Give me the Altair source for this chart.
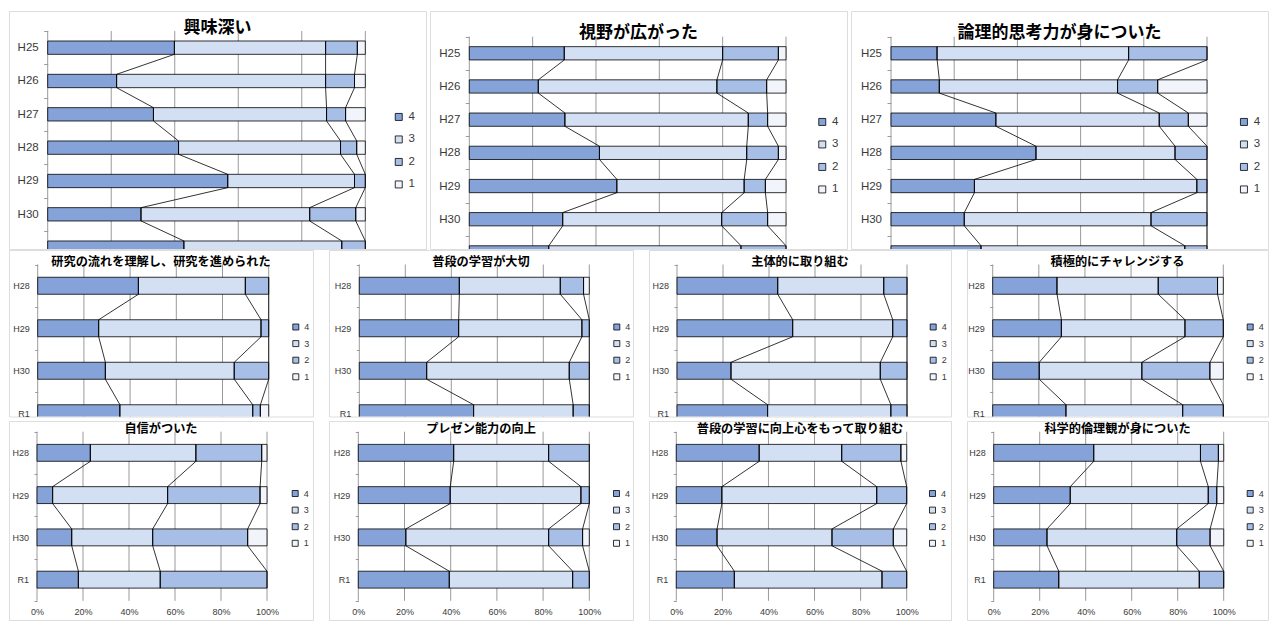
import json
import altair as alt
import pandas as pd

# ---------------- data ----------------
CATS_TOP = ["H25", "H26", "H27", "H28", "H29", "H30", "R1"]
CATS_SUB = ["H28", "H29", "H30", "R1"]
LEVELS = ["4", "3", "2", "1"]
PCT_TICKS = [0, 0.2, 0.4, 0.6, 0.8, 1.0]

# each row: share (%) of answers 4, 3, 2, 1
kyomi = [[39.9, 47.6, 10.0, 2.5], [21.7, 65.8, 9.1, 3.4], [33.3, 54.5, 6.0, 6.2],
         [41.2, 51.0, 5.1, 2.7], [56.7, 39.9, 3.4, 0.0], [29.4, 53.1, 14.5, 3.0],
         [42.9, 49.7, 7.4, 0.0]]
shiya = [[30.0, 50.0, 17.6, 2.4], [21.8, 56.4, 15.7, 6.1], [30.2, 57.9, 6.1, 5.8],
         [41.1, 46.5, 10.0, 2.4], [46.6, 40.2, 6.7, 6.5], [29.5, 50.2, 14.5, 5.8],
         [25.1, 60.7, 14.2, 0.0]]
ronri = [[14.6, 60.6, 24.8, 0.0], [15.3, 56.4, 12.7, 15.6], [33.2, 51.7, 9.2, 5.9],
         [45.9, 44.0, 10.1, 0.0], [26.4, 70.4, 3.2, 0.0], [23.2, 59.1, 17.7, 0.0],
         [28.5, 64.5, 7.0, 0.0]]

kenkyu = [[43.6, 46.3, 10.1, 0.0], [26.4, 70.3, 3.3, 0.0], [29.3, 55.8, 14.9, 0.0], [35.6, 57.5, 3.3, 3.6]]
fudan = [[43.5, 43.9, 10.1, 2.5], [43.2, 53.6, 3.2, 0.0], [29.3, 62.0, 8.7, 0.0], [49.7, 43.3, 7.0, 0.0]]
shutai = [[43.8, 46.1, 10.1, 0.0], [50.3, 43.5, 6.2, 0.0], [23.5, 64.9, 11.6, 0.0], [39.4, 53.6, 7.0, 0.0]]
sekkyoku = [[27.9, 43.9, 25.7, 2.5], [29.8, 53.6, 16.6, 0.0], [20.2, 44.5, 29.5, 5.8], [31.8, 50.6, 17.6, 0.0]]

jishin = [[23.2, 45.9, 28.6, 2.3], [6.8, 50.0, 40.2, 3.0], [15.1, 35.2, 41.3, 8.4], [18.0, 35.6, 46.4, 0.0]]
purezen = [[41.3, 41.1, 17.6, 0.0], [39.8, 56.6, 3.6, 0.0], [20.6, 61.8, 14.7, 2.9], [39.4, 53.4, 7.2, 0.0]]
kojoshin = [[36.0, 35.8, 25.7, 2.5], [19.8, 67.2, 13.0, 0.0], [17.7, 49.9, 26.6, 5.8], [25.2, 64.1, 10.7, 0.0]]
rinri = [[43.5, 46.4, 7.8, 2.3], [33.3, 60.0, 3.7, 3.0], [23.2, 56.4, 14.5, 5.9], [28.3, 61.1, 10.6, 0.0]]

TOP = [("興味深い", kyomi), ("視野が広がった", shiya), ("論理的思考力が身についた", ronri)]
MID = [("研究の流れを理解し、研究を進められた", kenkyu), ("普段の学習が大切", fudan),
       ("主体的に取り組む", shutai), ("積極的にチャレンジする", sekkyoku)]
BOT = [("自信がついた", jishin), ("プレゼン能力の向上", purezen),
       ("普段の学習に向上心をもって取り組む", kojoshin), ("科学的倫理観が身についた", rinri)]

# ---------------- style ----------------
COLORS = ["#86A3D9", "#D3DFF3", "#A7BEE7", "#F1F5FB"]
GRID = "#9A9A9A"
FRAME = "#A6A6A6"
LABEL = "#3A3A3A"
JP = "Noto Sans CJK JP"
LAT = "Liberation Sans"
BAR_HALF = 0.2
MID_SHIFT = 1.5   # vertical compensation of the layout inside each row
BOT_SHIFT = 5.0

# geometry (inside each frame)
G_TOP = [
    dict(w=417, h=238, x0=38.7, x1=356.3, yt=20.0, yb=253.3, ty=17, lx=384.0, ly=100.2),
    dict(w=417, h=238, x0=39.3, x1=356.0, yt=25.7, yb=258.0, ty=21.5, lx=386.5, ly=105.2),
    dict(w=417, h=238, x0=40.0, x1=356.0, yt=25.7, yb=258.0, ty=22, lx=387.2, ly=105.2),
]
MID_W = [304, 304, 302, 301]
G_MID = [
    dict(w=MID_W[0], h=168, x0=28.7, x1=259.7, yt=16.0, yb=186.0, ty=13.3, lx=282.3, ly=74.0),
    dict(w=MID_W[1], h=168, x0=30.3, x1=260.3, yt=16.0, yb=186.0, ty=13.3, lx=283.3, ly=74.0),
    dict(w=MID_W[2], h=168, x0=28.0, x1=258.0, yt=16.0, yb=186.0, ty=13.3, lx=279.7, ly=74.0),
    dict(w=MID_W[3], h=168, x0=25.7, x1=256.3, yt=16.0, yb=186.0, ty=13.3, lx=278.7, ly=74.0),
]
G_BOT = [
    dict(w=MID_W[0], h=204, x0=28.0, x1=258.0, yt=15.7, yb=184.8, ty=13.3, lx=281.7, ly=73.0),
    dict(w=MID_W[1], h=204, x0=29.3, x1=260.3, yt=15.7, yb=184.8, ty=13.3, lx=283.0, ly=73.0),
    dict(w=MID_W[2], h=204, x0=27.3, x1=257.7, yt=15.7, yb=184.8, ty=13.3, lx=279.0, ly=73.0),
    dict(w=MID_W[3], h=204, x0=26.7, x1=256.7, yt=15.7, yb=184.8, ty=13.3, lx=278.7, ly=73.0),
]


def shifted(g, s):
    g = dict(g)
    for key in ("yt", "yb", "ty", "ly", "h"):
        g[key] = g[key] - s
    return g


G_MID = [shifted(g, MID_SHIFT) for g in G_MID]
G_BOT = [shifted(g, BOT_SHIFT) for g in G_BOT]


def panel(title, cats, rows, g, big, show_x):
    n = len(cats)
    bar_recs, line_recs = [], []
    for i, (cat, row) in enumerate(zip(cats, rows)):
        tot = sum(row)
        cum = 0.0
        for k, (lev, v) in enumerate(zip(LEVELS, row)):
            s = cum / tot
            cum += v
            e = cum / tot
            if v > 0:
                bar_recs.append(dict(cat=cat, level=lev, start=s, end=e,
                                     yt=i - BAR_HALF, yb=i + BAR_HALF))
            if k < 3:
                line_recs.append(dict(b=k, o=2 * i, xv=e, yv=i - BAR_HALF))
                line_recs.append(dict(b=k, o=2 * i + 1, xv=e, yv=i + BAR_HALF))
    bars_df = pd.DataFrame(bar_recs)
    lines_df = pd.DataFrame(line_recs)
    grid_df = pd.DataFrame(dict(gx=PCT_TICKS, g1=[-0.5] * len(PCT_TICKS),
                                g2=[n - 0.5] * len(PCT_TICKS)))
    title_df = pd.DataFrame(dict(t=[title]))

    xs = alt.Scale(domain=[0, 1], range=[g["x0"], g["x1"]], nice=False, zero=False)
    ys = alt.Scale(domain=[-0.5, n - 0.5], range=[g["yt"], g["yb"]], nice=False, zero=False)

    lab_fs = 11.5 if big else 9
    tick = 4 if big else 3

    def pos(v):
        return g["yt"] + (v + 0.5) / n * (g["yb"] - g["yt"])

    vals = []
    for k in range(2 * n + 1):
        v = k / 2 - 0.5
        if k % 2 == 0:
            if pos(v) <= g["h"] - 1:
                vals.append(v)
        else:
            if pos(v) + lab_fs / 2 <= g["h"] + 3:
                vals.append(v)
    expr = "datum.value % 1 === 0 ? " + json.dumps(cats) + "[datum.value] : ''"
    yaxis = alt.Axis(values=vals, labelExpr=expr, domain=False, grid=False, ticks=True,
                     tickSize=tick, tickWidth=1,
                     tickColor={"condition": {"test": "datum.value % 1 !== 0", "value": GRID},
                                "value": "transparent"},
                     labelFontSize=lab_fs, labelFont=LAT, labelColor=LABEL,
                     labelPadding=5.5, offset=-g["x0"], title=None,
                     labelOverlap=False, labelFlush=False)
    if show_x:
        xaxis = alt.Axis(values=PCT_TICKS, format="%", domain=False, ticks=False, grid=False,
                         labelFontSize=9, labelFont=LAT, labelColor=LABEL, labelPadding=7,
                         offset=-(g["h"] - g["yb"]), title=None, labelFlush=False,
                         labelOverlap=False)
    else:
        xaxis = None

    sym = 49 if big else 36
    legend = alt.Legend(orient="none", legendX=g["lx"], legendY=g["ly"], title=None,
                        symbolType="square", symbolSize=sym, symbolStrokeColor="#000",
                        symbolStrokeWidth=0.8, labelFontSize=lab_fs if big else 9,
                        labelFont=LAT, labelColor=LABEL, labelOffset=4,
                        rowPadding=9.5 if big else 5.6, padding=0)

    rules = alt.Chart(grid_df).mark_rule(color=GRID, strokeWidth=1, clip=True).encode(
        x=alt.X("gx:Q", scale=xs, axis=xaxis),
        y=alt.Y("g1:Q", scale=ys, axis=yaxis), y2="g2:Q")
    bars = alt.Chart(bars_df).mark_bar(stroke="#000", strokeWidth=0.8, clip=True).encode(
        x=alt.X("start:Q", scale=xs, axis=xaxis), x2="end:Q",
        y=alt.Y("yt:Q", scale=ys, axis=yaxis), y2="yb:Q",
        fill=alt.Fill("level:N", scale=alt.Scale(domain=LEVELS, range=COLORS), legend=legend))
    lines = alt.Chart(lines_df).mark_line(color="#000", strokeWidth=0.8, clip=True).encode(
        x=alt.X("xv:Q", scale=xs, axis=xaxis),
        y=alt.Y("yv:Q", scale=ys, axis=yaxis),
        detail="b:N", order="o:Q")
    ttl = alt.Chart(title_df).mark_text(
        font=JP, fontSize=17 if big else 12.2, fontWeight="bold", color="#000",
        align="center", baseline="middle").encode(
        text="t:N", x=alt.value(g["w"] / 2), y=alt.value(g["ty"]))

    return alt.layer(rules, bars, lines, ttl).properties(width=g["w"], height=g["h"])


def row(items, cats, geoms, big, show_x, spacing):
    return alt.hconcat(*[panel(t, cats, r, g, big, show_x) for (t, r), g in zip(items, geoms)],
                       spacing=spacing, bounds="flush").resolve_scale(
        fill="independent").resolve_legend(fill="independent")


top = row(TOP, CATS_TOP, G_TOP, True, False, 4)
mid = row(MID, CATS_SUB, G_MID, False, False, 16)
bot = row(BOT, CATS_SUB, G_BOT, False, True, 16)

lower = alt.vconcat(mid, bot, spacing=-8).resolve_scale(
    fill="independent").resolve_legend(fill="independent")
chart = alt.vconcat(top, lower, spacing=-4).resolve_scale(
    fill="independent").resolve_legend(fill="independent").properties(
    padding={"left": 8, "top": 10, "right": 0, "bottom": 0}
).configure_view(stroke=FRAME, strokeWidth=1, fill="white").configure(background="white")

chart.save("out.html", embed_options={"renderer": "svg", "actions": False})
